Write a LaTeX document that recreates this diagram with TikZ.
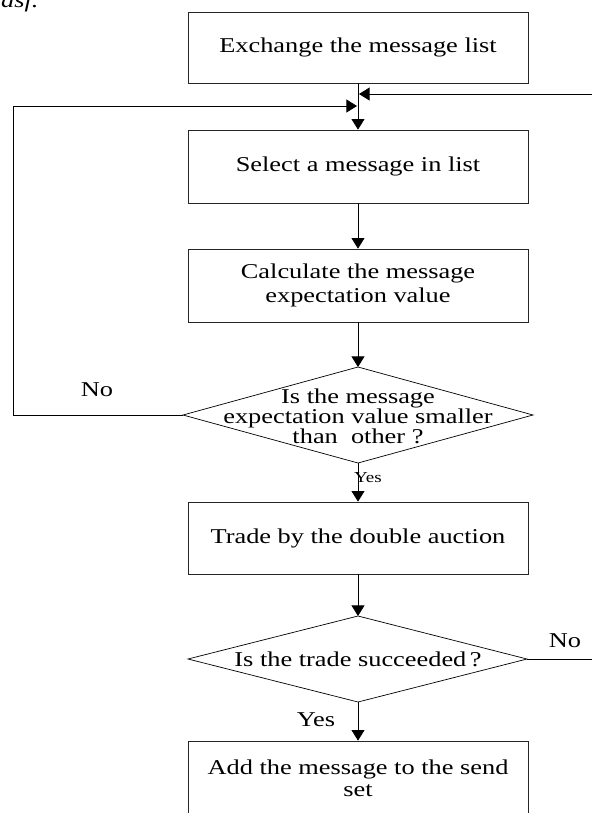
\documentclass[tikz,border=0pt]{standalone}
\usepackage{fontspec}
\setmainfont{Liberation Serif}[FakeStretch=1.25]
\usetikzlibrary{arrows.meta}
\begin{document}
\begin{tikzpicture}[x=0.3mm,y=-0.3mm,
  box/.style={draw=black!85, line width=0.6pt, minimum width=102mm, inner sep=0pt, align=center, font=\fontsize{18}{20}\selectfont},
  txt/.style={inner sep=0pt, align=center, font=\fontsize{18}{17}\selectfont},
  lbl/.style={inner sep=0pt, font=\fontsize{18}{20}\selectfont},
  small/.style={inner sep=0pt, font=\fontsize{13}{15}\selectfont},
  arr/.style={draw=black, line width=0.65pt, -{Triangle[length=9pt,width=11pt]}},
  dia/.style={draw=black, line width=0.6pt}]
\useasboundingbox (0,0) rectangle (592,813);
% top-left fragment
\node[anchor=base west, inner sep=0pt, font=\fontsize{18}{20}\itshape] (frag) at (1,7) {asf.};
% boxes
\node[box, minimum height=21.3mm] (b1) at (358,47.5) {Exchange the message list};
\node[box, minimum height=21.9mm] (b2) at (358,166.5) {Select a message in list};
\node[box, minimum height=21.9mm] (b3) at (358,285.5) {Calculate the message\\expectation value};
\node[box, minimum height=21.6mm] (b4) at (358,538) {Trade by the double auction};
\node[box, minimum height=22.2mm, font=\fontsize{18}{19}\selectfont] (b5) at (358,778) {Add the message to the send\\set};
% diamond 1
\coordinate (d1n) at (358,367);
\coordinate (d1s) at (358,463);
\coordinate (d1w) at (183,415);
\coordinate (d1e) at (533,415);
\draw[dia] (d1n) -- (d1e) -- (d1s) -- (d1w) -- cycle;
\node[txt] (d1) at (358,416) {Is the message\\expectation value smaller\\than\ \ other ?};
% diamond 2
\coordinate (d2n) at (358,616);
\coordinate (d2s) at (358,702);
\coordinate (d2w) at (188,659);
\coordinate (d2e) at (527,659);
\draw[dia] (d2n) -- (d2e) -- (d2s) -- (d2w) -- cycle;
\node[txt] (d2) at (358,659) {Is the trade succeeded\,?};
% junction points
\coordinate (jl) at (357,106);
\coordinate (jr) at (359,94);
\coordinate (lx) at (13,0);
\coordinate (rx) at (593,0);
% connectors
\draw[arr] (b1) -- (b2);
\draw[arr] (b2) -- (b3);
\draw[arr] (b3) -- (d1n);
\draw[arr] (d1s) -- (b4);
\draw[arr] (b4) -- (d2n);
\draw[arr] (d2s) -- (b5);
\draw[arr] (d1w) -- (d1w -| lx) |- (jl);
\draw[arr] (d2e) -- (d2e -| rx) |- (jr);
% labels
\node[lbl] (no1) at (97,390) {No};
\node[small] (yes1) at (368,478) {Yes};
\node[lbl] (no2) at (565,641) {No};
\node[lbl] (yes2) at (316,720) {Yes};
\end{tikzpicture}
\end{document}
